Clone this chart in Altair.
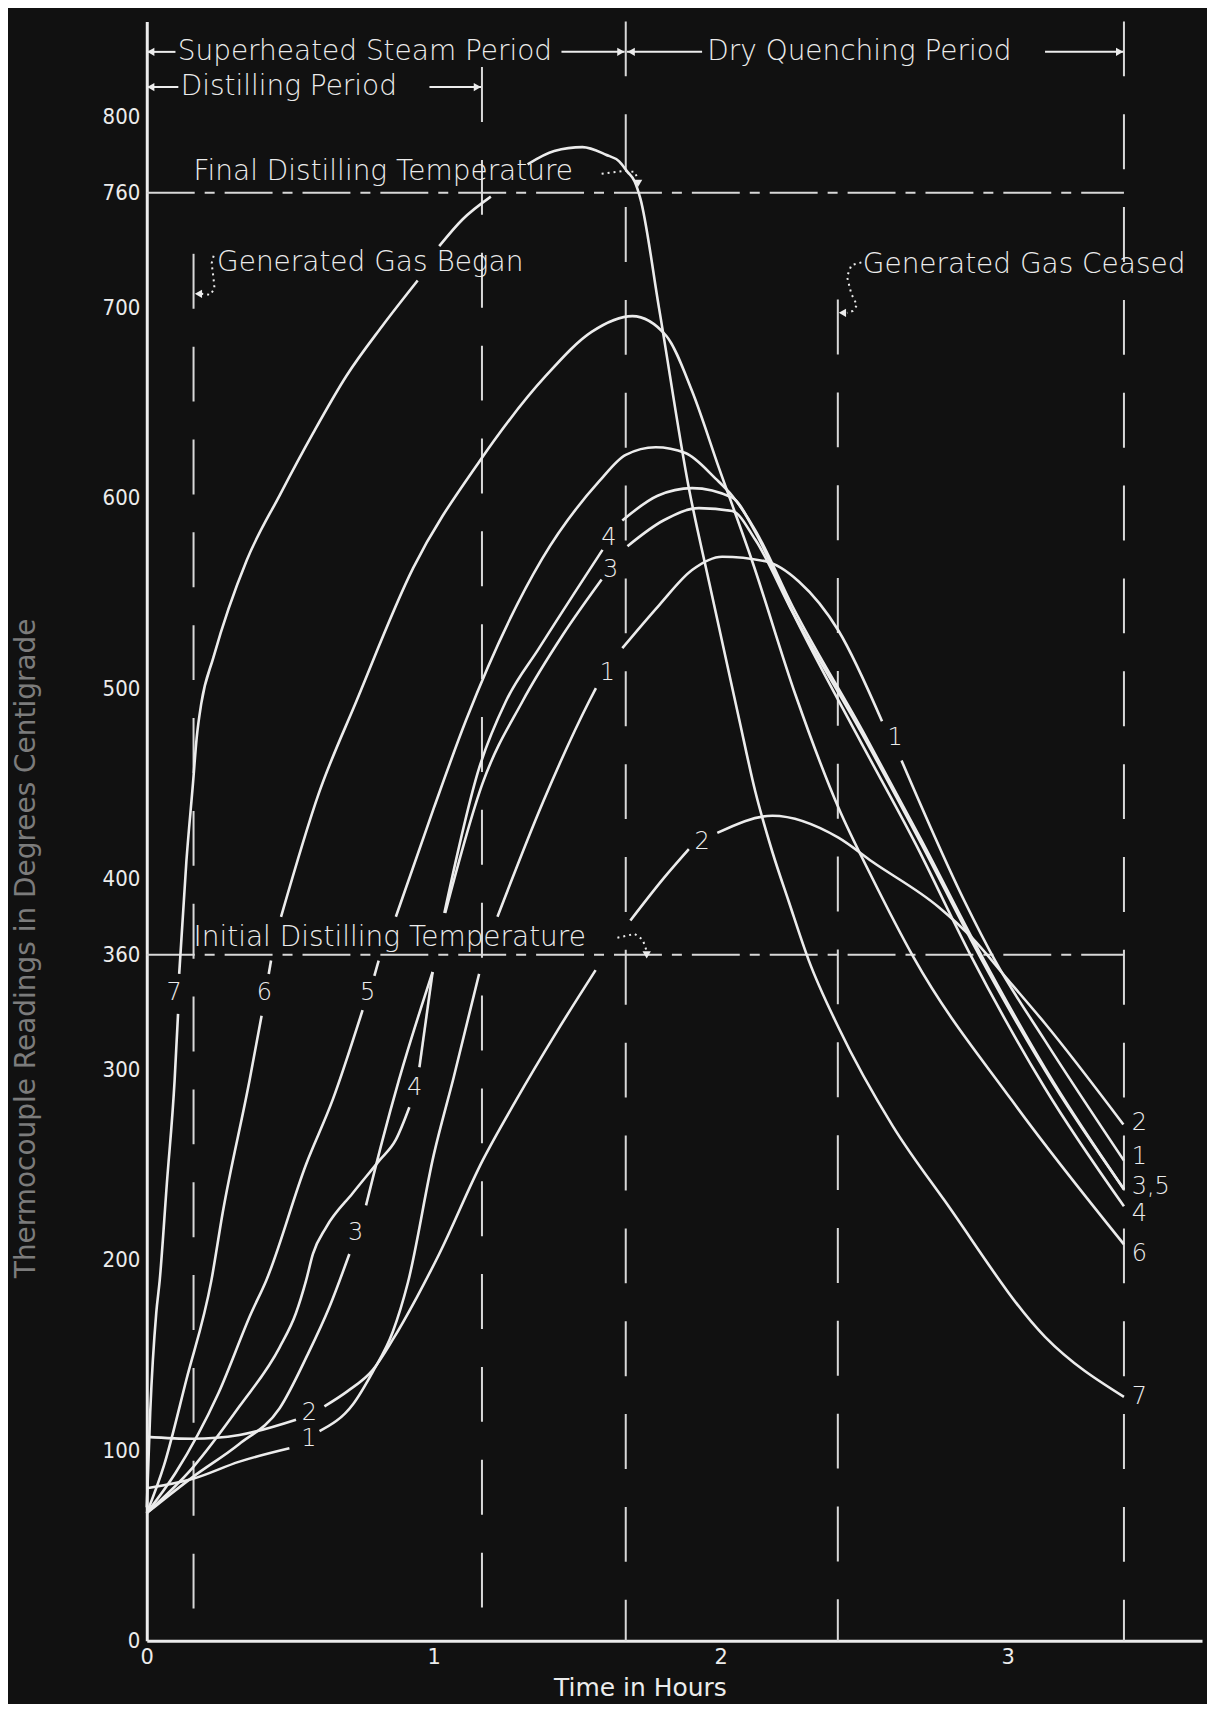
import altair as alt
import pandas as pd

# ---------------- data ----------------
X_TICKS = [0, 1, 2, 3]
Y_TICKS = [0, 100, 200, 300, 360, 400, 500, 600, 700, 760, 800]

# each curve = list of drawn segments, each segment = list of (hours, degrees C)
CURVE_1 = [
    [(0, 80), (0.161, 85), (0.323, 94), (0.497, 101)],
    [(0.602, 110), (0.718, 124), (0.787, 141), (0.857, 162), (0.91, 188), (1.0, 255), (1.07, 296), (1.158, 350)],
    [(1.222, 380), (1.38, 440), (1.541, 493), (1.565, 500)],
    [(1.657, 521), (1.785, 543.5), (1.90, 562), (2.005, 569), (2.156, 566.6), (2.272, 556), (2.411, 530), (2.562, 482.6)],
    [(2.63, 462), (2.85, 388), (2.956, 357), (3.13, 315), (3.405, 252)],
]
CURVE_2 = [
    [(0, 107), (0.161, 106), (0.323, 108), (0.52, 116)],
    [(0.619, 123), (0.70, 131), (0.787, 142), (0.857, 158), (0.94, 180), (1.019, 203), (1.17, 252), (1.286, 283.5), (1.43, 320), (1.564, 352)],
    [(1.685, 378), (1.80, 400), (1.889, 415.5)],
    [(1.988, 424), (2.18, 433), (2.41, 421.5), (2.527, 409), (2.76, 385), (2.875, 369), (3.003, 346.5), (3.13, 324), (3.403, 271)],
]
CURVE_3 = [
    [(0, 67), (0.161, 86), (0.32, 103), (0.463, 122), (0.56, 150), (0.636, 175), (0.706, 203)],
    [(0.764, 228.5), (0.82, 262), (0.88, 295), (0.996, 351)],
    [(1.04, 382), (1.17, 450), (1.309, 493), (1.45, 528), (1.585, 557)],
    [(1.675, 574.5), (1.80, 588), (1.924, 594.5), (2.04, 593), (2.12, 578), (2.25, 540), (2.50, 474), (2.70, 418), (2.90, 360), (3.16, 292), (3.405, 237)],
]
CURVE_4 = [
    [(0, 67), (0.161, 91), (0.323, 123), (0.463, 154), (0.52, 172), (0.555, 189), (0.579, 203), (0.625, 217), (0.718, 235), (0.81, 252), (0.868, 263), (0.915, 280)],
    [(0.95, 301), (0.996, 351)],
    [(1.037, 382), (1.158, 458), (1.251, 493), (1.367, 521), (1.588, 572.6)],
    [(1.657, 588), (1.78, 601), (1.90, 605), (2.04, 600), (2.12, 582), (2.25, 540), (2.48, 474), (2.68, 418), (2.87, 360), (3.13, 290), (3.405, 228)],
]
CURVE_5 = [
    [(0, 67), (0.1, 88), (0.25, 130), (0.364, 172), (0.416, 189), (0.555, 250), (0.648, 284), (0.752, 331)],
    [(0.793, 349), (0.808, 357)],
    [(0.868, 380), (1.0, 437), (1.112, 483), (1.378, 568), (1.576, 608.5), (1.669, 622.5), (1.773, 626.5), (1.877, 623.4), (1.982, 610), (2.04, 601), (2.12, 583), (2.25, 543), (2.50, 476), (2.70, 420), (2.90, 362), (3.16, 293), (3.405, 237)],
]
CURVE_6 = [
    [(0, 67), (0.06, 92), (0.138, 137), (0.225, 189), (0.265, 225), (0.358, 294), (0.40, 328)],
    [(0.425, 350), (0.433, 357)],
    [(0.468, 380), (0.60, 445), (0.73, 493), (0.928, 563), (1.159, 619), (1.391, 664), (1.55, 687), (1.692, 695.3), (1.81, 685), (1.90, 656), (1.994, 615.5), (2.11, 566.5), (2.26, 496.7), (2.41, 437.3), (2.527, 400.6), (2.672, 358.7), (3.015, 283.5), (3.405, 208)],
]
CURVE_7 = [
    [(0, 70), (0.012, 120), (0.033, 172), (0.045, 189), (0.07, 240), (0.097, 294), (0.109, 329)],
    [(0.113, 350), (0.138, 409), (0.161, 450), (0.174, 474), (0.19, 492), (0.232, 516), (0.348, 567), (0.464, 601.5), (0.58, 634), (0.696, 664), (0.82, 690), (0.944, 714)],
    [(1.019, 732), (1.10, 746), (1.199, 758)],
    [(1.327, 775), (1.42, 782), (1.518, 784), (1.60, 780), (1.646, 776.5), (1.675, 771), (1.70, 766), (1.72, 757), (1.785, 699.5), (1.889, 605), (1.959, 556), (2.063, 484.5), (2.12, 446), (2.18, 414), (2.237, 388), (2.307, 357), (2.41, 322), (2.60, 270), (2.78, 231), (3.13, 159.5), (3.405, 128)],
]
CURVES = {"1": CURVE_1, "2": CURVE_2, "3": CURVE_3, "4": CURVE_4,
          "5": CURVE_5, "6": CURVE_6, "7": CURVE_7}

# vertical dashed period lines
VLINE_T = [0.163, 1.168, 1.669, 2.408, 3.405]
VLINE_TOP = [728, 826, 850, 704, 850]
# horizontal dash-dot temperature lines
HLINE_Y = [760, 360]
HLINE_END = [3.405, 3.405]

# period arrows
PER_X1 = [0, 1.445, 1.673, 3.13, 0, 0.985]
PER_X2 = [0.10, 1.665, 1.935, 3.403, 0.11, 1.165]
PER_Y = [834, 834, 834, 834, 815.5, 815.5]
ARROW_T = [0.014, 1.652, 1.688, 3.39, 0.014, 1.152, 0.180, 2.424, 1.712, 1.742]
ARROW_Y = [834, 834, 834, 834, 815.5, 815.5, 707, 697, 765, 360]
ARROW_SHAPE = ["triangle-left", "triangle-right", "triangle-left", "triangle-right",
               "triangle-left", "triangle-right", "triangle-left", "triangle-left",
               "triangle-down", "triangle-down"]

# annotation texts
ANNOT_TEXT = ["Superheated Steam Period", "Distilling Period", "Dry Quenching Period",
              "Final Distilling Temperature", "Initial Distilling Temperature",
              "Generated Gas Began", "Generated Gas Ceased"]
ANNOT_T = [0.108, 0.118, 1.953, 0.163, 0.163, 0.245, 2.495]
ANNOT_Y = [834, 815.5, 834, 771, 369, 723, 722]

# dotted leader hooks
LEADERS = {
    "final": [(1.585, 770), (1.66, 771.5), (1.70, 771), (1.712, 767)],
    "initial": [(1.64, 369), (1.70, 371), (1.728, 368), (1.742, 362)],
    "began": [(0.233, 727), (0.226, 723), (0.232, 716), (0.236, 710), (0.222, 706.5), (0.19, 707)],
    "ceased": [(2.49, 723.5), (2.455, 722), (2.44, 716), (2.455, 707), (2.475, 701), (2.46, 698), (2.44, 697)],
}

# curve number labels
NUM_TEXT = ["7", "6", "5", "4", "3", "2", "1", "4", "3", "1", "2", "1"]
NUM_T = [0.095, 0.41, 0.77, 0.933, 0.728, 0.567, 0.565, 1.61, 1.616, 1.605, 1.935, 2.608]
NUM_Y = [340, 340, 340, 290, 214, 119.5, 106, 579, 562, 508, 419, 474]
END_TEXT = ["2", "1", "3,5", "4", "6", "7"]
END_Y = [272, 254, 238, 224, 203, 128]
END_T = 3.432

# ---------------- build tables ----------------
rows = []
for name, segs in CURVES.items():
    for si, seg in enumerate(segs):
        for k, (t, T) in enumerate(seg):
            rows.append({"curve": name, "seg": f"{name}-{si}", "k": k, "t": t, "T": T})
curves_df = pd.DataFrame(rows)

lrows = []
for name, pts in LEADERS.items():
    for k, (t, T) in enumerate(pts):
        lrows.append({"seg": name, "k": k, "t": t, "T": T})
leaders_df = pd.DataFrame(lrows)

vlines_df = pd.DataFrame({"t": VLINE_T, "T": VLINE_TOP, "T2": [0] * len(VLINE_T)})
hlines_df = pd.DataFrame({"t": [0] * len(HLINE_Y), "t2": HLINE_END, "T": HLINE_Y})
per_df = pd.DataFrame({"t": PER_X1, "t2": PER_X2, "T": PER_Y})
arrow_df = pd.DataFrame({"t": ARROW_T, "T": ARROW_Y, "shape": ARROW_SHAPE})
annot_df = pd.DataFrame({"t": ANNOT_T, "T": ANNOT_Y, "text": ANNOT_TEXT})
num_df = pd.DataFrame({"t": NUM_T, "T": NUM_Y, "text": NUM_TEXT})
end_df = pd.DataFrame({"t": [END_T] * len(END_TEXT), "T": END_Y, "text": END_TEXT})

# ---------------- styling ----------------
FG = "#ececec"
FONT = "DejaVu Sans"
xs = alt.Scale(domain=[0, 3.677], nice=False, zero=False)
ys = alt.Scale(domain=[0, 850], nice=False, zero=False)
xaxis = alt.Axis(values=X_TICKS, format="d", ticks=False, grid=False,
                 domainColor=FG, domainWidth=3, labelColor=FG, labelFont=FONT,
                 labelFontSize=21, labelPadding=6, labelFlush=False, labelOverlap=False,
                 title="Time in Hours", titleColor=FG, titleFont=FONT, titleFontSize=25,
                 titleFontWeight="normal", titleX=494, titleY=47, titleBaseline="middle",
                 titleAlign="center")
yaxis = alt.Axis(values=Y_TICKS, format="d", ticks=False, grid=False,
                 domainColor=FG, domainWidth=3, labelColor=FG,
                 labelFont="DejaVu Sans Condensed, DejaVu Sans",
                 labelFontSize=22, labelPadding=7, labelFlush=False, labelOverlap=False,
                 title="Thermocouple Readings in Degrees Centigrade", titleColor="#7c7c7c",
                 titleFont=FONT, titleFontSize=28, titleFontWeight="normal",
                 titleX=-120, titleY=928, titleAngle=270, titleAlign="center",
                 titleBaseline="middle")

X = lambda f="t": alt.X(f"{f}:Q", scale=xs, axis=xaxis)
Y = lambda f="T": alt.Y(f"{f}:Q", scale=ys, axis=yaxis)

vlines = alt.Chart(vlines_df).mark_rule(color="#d8d8d8", strokeWidth=2, strokeDash=[55, 38]).encode(
    x=X(), y=Y(), y2=alt.Y2("T2:Q"))
hlines = alt.Chart(hlines_df).mark_rule(color="#d8d8d8", strokeWidth=2, strokeDash=[48, 10, 10, 10]).encode(
    x=X(), x2=alt.X2("t2:Q"), y=Y())
lines = alt.Chart(curves_df).mark_line(interpolate="monotone", color=FG, strokeWidth=2.6).encode(
    x=X(), y=Y(), detail="seg:N", order="k:Q")
leaders = alt.Chart(leaders_df).mark_line(color=FG, strokeWidth=2, strokeDash=[2, 4]).encode(
    x=X(), y=Y(), detail="seg:N", order="k:Q")
per = alt.Chart(per_df).mark_rule(color=FG, strokeWidth=2).encode(
    x=X(), x2=alt.X2("t2:Q"), y=Y())
arrows = alt.Chart(arrow_df).mark_point(filled=True, color=FG, size=70, opacity=1).encode(
    x=X(), y=Y(), shape=alt.Shape("shape:N", scale=None))
annots = alt.Chart(annot_df).mark_text(align="left", baseline="middle", font=FONT,
                                       fontSize=28, fontWeight=300, color=FG).encode(
    x=X(), y=Y(), text="text:N")
nums = alt.Chart(num_df).mark_text(align="center", baseline="middle", font=FONT,
                                   fontSize=24, fontWeight=300, color=FG).encode(
    x=X(), y=Y(), text="text:N")
ends = alt.Chart(end_df).mark_text(align="left", baseline="middle", font=FONT,
                                   fontSize=24, fontWeight=300, color=FG).encode(
    x=X(), y=Y(), text="text:N")

chart = alt.layer(vlines, hlines, lines, leaders, per, arrows, annots, nums, ends).properties(
    width=1057, height=1622,
    padding={"left": 139, "top": 12, "right": 5, "bottom": 62},
    autosize=alt.AutoSizeParams(type="none"),
    background="#111111",
).configure_view(stroke=None)

chart.save("out.html", embed_options={"renderer": "svg", "actions": False})
